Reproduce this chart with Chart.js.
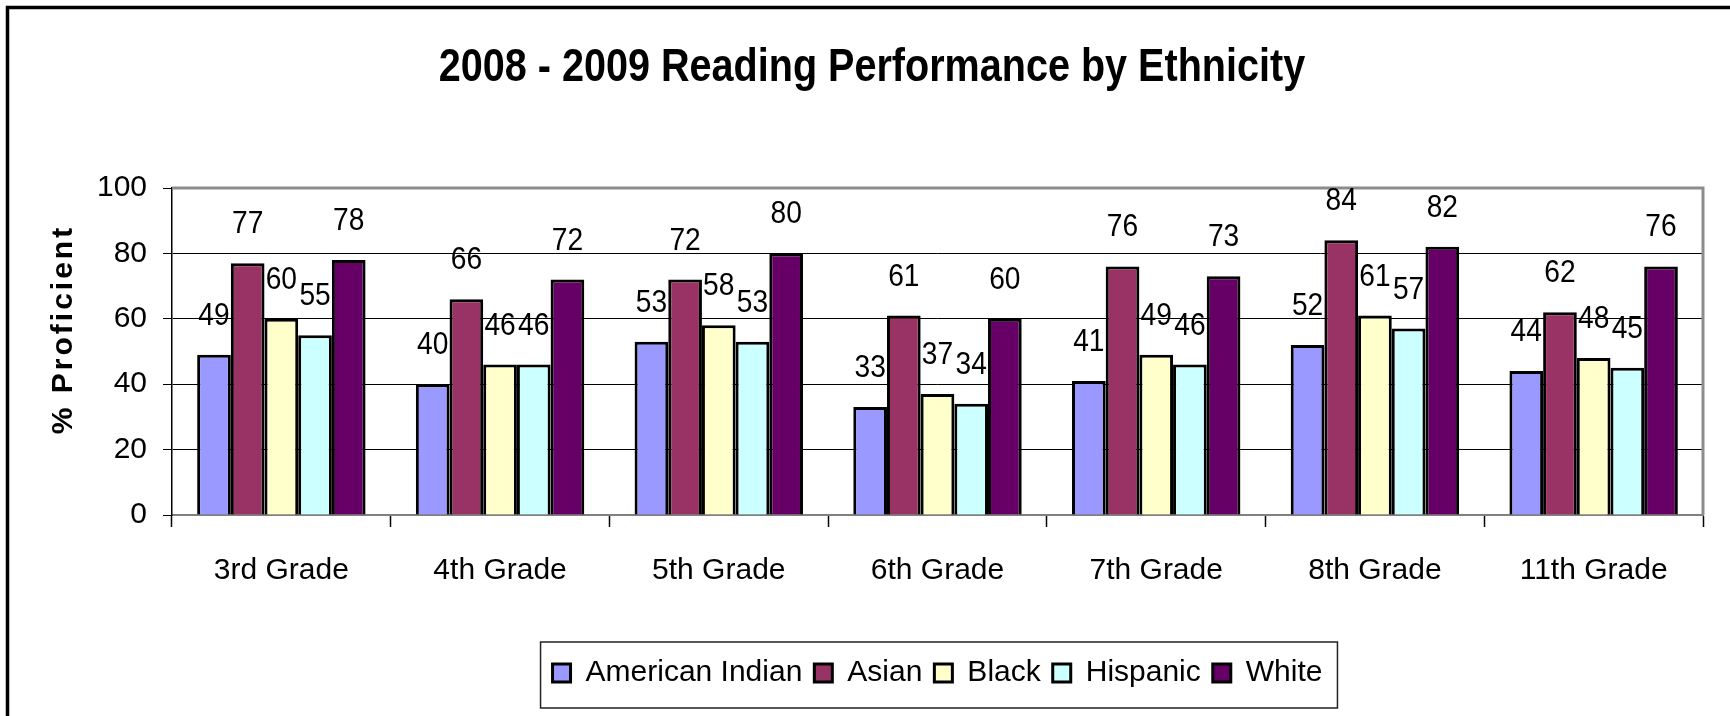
<!DOCTYPE html>
<html>
<head>
<meta charset="utf-8">
<title>2008 - 2009 Reading Performance by Ethnicity</title>
<script src="https://cdn.jsdelivr.net/npm/chart.js@4.4.1/dist/chart.umd.min.js"></script>
<style>
  html, body { margin: 0; padding: 0; background: #fff; }
  #wrap { width: 1730px; height: 716px; position: relative; }
</style>
</head>
<body>
<div id="wrap"><canvas id="chart"></canvas></div>
<script>
const grades = ['3rd Grade', '4th Grade', '5th Grade', '6th Grade', '7th Grade', '8th Grade', '11th Grade'];
const americanIndian = [49, 40, 53, 33, 41, 52, 44];
const asian = [77, 66, 72, 61, 76, 84, 62];
const black = [60, 46, 58, 37, 49, 61, 48];
const hispanic = [55, 46, 53, 34, 46, 57, 45];
const white = [78, 72, 80, 60, 73, 82, 76];
const yTicks = [0, 20, 40, 60, 80, 100];

const chartTitle = '2008 - 2009 Reading Performance by Ethnicity';
const yTitleText = '% Proficient';

const FONT = 'Liberation Sans, Arial, sans-serif';

// white page + the thick outer border (right/bottom edges run off the picture)
const frame = {
  id: 'frame',
  beforeDraw(chart) {
    const ctx = chart.ctx;
    ctx.save();
    ctx.fillStyle = '#fff';
    ctx.fillRect(0, 0, chart.width, chart.height);
    ctx.strokeStyle = '#000';
    ctx.lineWidth = 3.5;
    ctx.strokeRect(7.5, 7.5, chart.width + 20, chart.height + 20);
    ctx.restore();
  },
  beforeDatasetsDraw(chart) {
    const { ctx, chartArea: a } = chart;
    ctx.save();
    ctx.strokeStyle = '#8c8c8c';
    ctx.lineWidth = 3;
    ctx.beginPath();
    ctx.moveTo(a.left, a.top);
    ctx.lineTo(a.right, a.top);
    ctx.lineTo(a.right, a.bottom);
    ctx.stroke();
    ctx.restore();
  }
};

// the original uses a condensed face, so squeeze the text sideways
const squeezedText = (ctx, text, x, y, sx) => {
  ctx.save();
  ctx.translate(x, y);
  ctx.scale(sx, 1);
  ctx.fillText(text, 0, 0);
  ctx.restore();
};

const titleDraw = {
  id: 'titleDraw',
  afterDraw(chart) {
    const ctx = chart.ctx;
    ctx.save();
    ctx.font = 'bold 46px ' + FONT;
    ctx.fillStyle = '#000';
    ctx.textAlign = 'center';
    ctx.textBaseline = 'middle';
    squeezedText(ctx, chartTitle, 872, 68, 0.86);
    ctx.restore();
  }
};

const valueLabels = {
  id: 'valueLabels',
  afterDatasetsDraw(chart) {
    const ctx = chart.ctx;
    ctx.save();
    ctx.font = '32px ' + FONT;
    ctx.fillStyle = '#000';
    ctx.textAlign = 'center';
    ctx.textBaseline = 'alphabetic';
    chart.data.datasets.forEach((ds, i) => {
      chart.getDatasetMeta(i).data.forEach((bar, j) => {
        squeezedText(ctx, String(ds.data[j]), bar.x, bar.y - 30, 0.88);
      });
    });
    ctx.restore();
  }
};

// rotated, letter-spaced axis title
const yTitle = {
  id: 'yTitle',
  afterDraw(chart) {
    const { ctx, chartArea: a } = chart;
    ctx.save();
    ctx.translate(64, (a.top + a.bottom) / 2 - 22);
    ctx.rotate(-Math.PI / 2);
    ctx.font = 'bold 30px ' + FONT;
    ctx.letterSpacing = '3px';
    ctx.fillStyle = '#000';
    ctx.textAlign = 'center';
    ctx.textBaseline = 'middle';
    ctx.fillText(yTitleText, 0, 0);
    ctx.restore();
  }
};

const legendBox = {
  id: 'legendBox',
  afterDraw(chart) {
    const boxes = chart.legend.legendHitBoxes;
    if (!boxes || !boxes.length) return;
    const left = Math.min(...boxes.map(b => b.left)) - 12;
    const right = Math.max(...boxes.map(b => b.left + b.width)) + 15;
    const top = boxes[0].top - 16;
    const bottom = boxes[0].top + boxes[0].height + 20;
    const ctx = chart.ctx;
    ctx.save();
    ctx.strokeStyle = '#222';
    ctx.lineWidth = 1.5;
    ctx.strokeRect(left, top, right - left, bottom - top);
    ctx.restore();
  }
};

new Chart(document.getElementById('chart'), {
  type: 'bar',
  data: {
    labels: grades,
    datasets: [
      { label: 'American Indian', data: americanIndian, backgroundColor: '#9999FF' },
      { label: 'Asian', data: asian, backgroundColor: '#993366' },
      { label: 'Black', data: black, backgroundColor: '#FFFFCC' },
      { label: 'Hispanic', data: hispanic, backgroundColor: '#CCFFFF' },
      { label: 'White', data: white, backgroundColor: '#660066' }
    ].map(ds => ({ ...ds, borderColor: '#000', borderWidth: 3, categoryPercentage: 0.77, barPercentage: 1 }))
  },
  options: {
    responsive: true,
    maintainAspectRatio: false,
    animation: false,
    layout: { padding: { left: 20, right: 27, top: 188, bottom: 18 } },
    plugins: {
      title: { display: false },
      legend: {
        position: 'bottom',
        fullSize: false,
        labels: {
          boxWidth: 18,
          boxHeight: 18,
          padding: 12,
          color: '#000',
          font: { family: FONT, size: 30 }
        }
      },
      tooltip: { enabled: false }
    },
    scales: {
      x: {
        grid: { offset: true, drawOnChartArea: false, tickLength: 12, tickColor: '#000', tickWidth: 1.5 },
        border: { color: '#808080', width: 2 },
        ticks: { color: '#000', padding: 26, maxRotation: 0, autoSkip: false, font: { family: FONT, size: 30 } },
        afterFit: s => { s.height = 131; }
      },
      y: {
        min: 0,
        max: 100,
        afterBuildTicks: s => { s.ticks = yTicks.map(v => ({ value: v })); },
        grid: {
          color: c => (c.tick && (c.tick.value === 0 || c.tick.value === 100)) ? 'rgba(0,0,0,0)' : '#000',
          tickColor: '#000',
          tickLength: 9
        },
        border: { color: '#000', width: 1.5 },
        ticks: { color: '#000', padding: 16, font: { family: FONT, size: 30 } },
        afterFit: s => { s.width = 152; }
      }
    }
  },
  plugins: [frame, valueLabels, titleDraw, yTitle, legendBox]
});
</script>
</body>
</html>
